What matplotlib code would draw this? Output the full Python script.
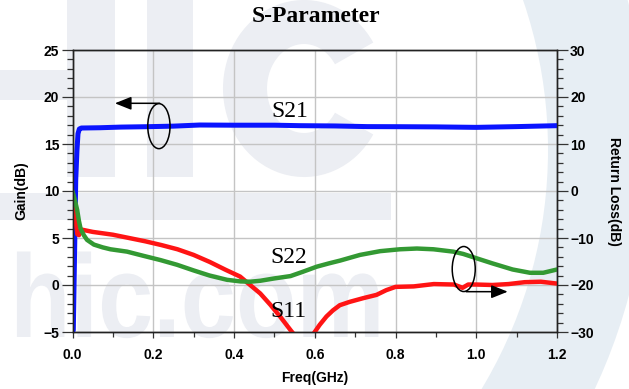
import numpy as np
import matplotlib
matplotlib.use("Agg")
import matplotlib.pyplot as plt
from matplotlib.patches import Ellipse, Rectangle, Arc, Wedge, PathPatch
from matplotlib.textpath import TextPath
from matplotlib.font_manager import FontProperties
from matplotlib.transforms import Affine2D
from matplotlib.ticker import MultipleLocator, FormatStrFormatter

# S21 gain (left axis, dB)
s21_freq = [0.0, 0.002, 0.005, 0.008, 0.011, 0.0136, 0.017, 0.022, 0.068, 0.12,
            0.184, 0.25, 0.315, 0.4, 0.5, 0.563, 0.65, 0.73, 0.811, 0.9, 1.0,
            1.1, 1.2]
s21_gain = [-5.0, -4.8, 3.0, 11.2, 14.3, 16.1, 16.6, 16.7, 16.73, 16.8,
            16.84, 16.9, 17.02, 17.0, 17.0, 16.95, 16.92, 16.85, 16.84, 16.82,
            16.77, 16.85, 16.95]

# S11 input return loss (right axis, dB)
s11_freq = [0.0, 0.006, 0.012, 0.016, 0.022, 0.05, 0.1, 0.14, 0.18, 0.22,
            0.26, 0.30, 0.34, 0.38, 0.415, 0.44, 0.465, 0.49, 0.515, 0.54,
            0.555, 0.57, 0.585, 0.60, 0.612, 0.629, 0.645, 0.662, 0.686, 0.72,
            0.753, 0.777, 0.80, 0.845, 0.895, 0.945, 0.966, 0.98, 1.0, 1.04,
            1.08, 1.12, 1.16, 1.2]
s11_rl = [-2.0, -5.0, -9.2, -9.4, -8.2, -8.7, -9.3, -10.0, -10.7, -11.5,
          -12.4, -13.6, -15.1, -16.8, -18.2, -20.0, -21.8, -24.2, -26.8, -29.6,
          -31.2, -32.4, -31.8, -30.0, -28.5, -26.7, -25.4, -24.3, -23.6, -22.8,
          -22.1, -21.1, -20.4, -20.3, -19.8, -19.9, -20.6, -19.9, -19.9, -20.0,
          -19.8, -19.4, -19.3, -19.7]

# S22 output return loss (right axis, dB)
s22_freq = [0.0, 0.006, 0.0115, 0.016, 0.02, 0.028, 0.036, 0.053, 0.075, 0.094,
            0.135, 0.176, 0.218, 0.259, 0.30, 0.34, 0.383, 0.416, 0.44, 0.465,
            0.50, 0.54, 0.57, 0.605, 0.635, 0.663, 0.712, 0.762, 0.811, 0.853,
            0.894, 0.943, 0.968, 0.993, 1.04, 1.09, 1.133, 1.166, 1.2]
s22_rl = [0.0, -2.0, -4.0, -6.4, -8.0, -9.4, -10.4, -11.4, -12.0, -12.4,
          -12.9, -13.8, -14.7, -15.7, -16.9, -18.0, -18.9, -19.24, -19.3, -19.1,
          -18.6, -18.1, -17.2, -16.1, -15.4, -14.8, -13.6, -12.8, -12.4, -12.24,
          -12.4, -12.9, -13.4, -14.1, -15.4, -16.7, -17.4, -17.4, -16.7]

W, H = 629, 389
fig = plt.figure(figsize=(W / 100, H / 100), dpi=100, facecolor="white")
px = Affine2D().scale(1.0 / W, 1.0 / H) + fig.transFigure


def box(x0, y0, x1, y1, color):
    # rectangle given in top-down pixel coords
    r = Rectangle((x0, H - y1), x1 - x0, y1 - y0, transform=px,
                  facecolor=color, edgecolor="none", zorder=-5)
    fig.add_artist(r)


# background logo
wm = "#eceef3"
box(67, 0, 115, 177, wm)
box(0, 70, 67, 100, wm)
box(147, 0, 193, 177, wm)
box(0, 193, 391, 220, wm)
fig.add_artist(Arc((304, H - 88.5), 118, 133, theta1=35, theta2=325,
                   transform=px, color=wm, lw=31.7, zorder=-5))
tp = TextPath((0, 0), "hic.com", size=118,
              prop=FontProperties(family="Liberation Sans", weight="bold"))
fig.add_artist(PathPatch(tp, transform=Affine2D().scale(0.84, 1.0).translate(10, H - 337) + px,
                         facecolor=wm, edgecolor="none", zorder=-5))
fig.add_artist(Wedge((85, H - 150), 563, -60, 60, width=100, transform=px,
                     facecolor="#e7eef4", edgecolor="none", zorder=-6))

ax = fig.add_axes([72.5 / W, 1 - 332 / H, 484.5 / W, 282 / H])
ax.set_facecolor("none")
ax2 = ax.twinx()
ax2.set_facecolor("none")

ax.plot(s21_freq, s21_gain, color="#0a14ff", lw=3.6, solid_capstyle="round", zorder=3)
ax2.plot(s11_freq, s11_rl, color="#ff1414", lw=3.2, solid_capstyle="round")
ax2.plot(s22_freq, s22_rl, color="#339933", lw=3.2, solid_capstyle="round")

ax.set_xlim(0, 1.2)
ax.set_ylim(-5, 25)
ax2.set_ylim(-30, 30)

ax.xaxis.set_major_locator(MultipleLocator(0.2))
ax.xaxis.set_minor_locator(MultipleLocator(0.1))
ax.xaxis.set_major_formatter(FormatStrFormatter("%.1f"))
ax.yaxis.set_major_locator(MultipleLocator(5))
ax.yaxis.set_minor_locator(MultipleLocator(1))
ax2.yaxis.set_major_locator(MultipleLocator(10))
ax2.yaxis.set_minor_locator(MultipleLocator(2))

ax.grid(True, which="major", color="#c4c4c4", lw=1.0)
ax.set_axisbelow(True)

tick_font = dict(family="Liberation Sans", weight="bold", size=10)
for a in (ax, ax2):
    a.tick_params(which="major", length=8, width=0.9, color="#333333", pad=1.5)
    a.tick_params(which="minor", length=4.5, width=0.9, color="#333333")
    for lbl in a.get_yticklabels():
        lbl.set_fontproperties(FontProperties(**tick_font))
    for s in a.spines.values():
        s.set_color("#222222")
        s.set_linewidth(1.0)
ax.tick_params(axis="x", which="major", length=4.5, pad=7)
ax.tick_params(axis="x", which="minor", length=3.5)
for lbl in ax.get_xticklabels():
    lbl.set_fontproperties(FontProperties(**tick_font))

ax.set_xlabel("Freq(GHz)", va="center", **tick_font)
ax.xaxis.set_label_coords(0.5, -0.163)
ax.set_ylabel("Gain(dB)", va="center", **tick_font)
ax.yaxis.set_label_coords(-0.105, 0.5)
ax2.set_ylabel("Return Loss(dB)", rotation=270, va="center", ha="center", **tick_font)
ax2.yaxis.set_label_coords(1.118, 0.5)

fig.text(316 / W, 1 - 17 / H, "S-Parameter", family="Liberation Serif",
         weight="bold", size=17, ha="center", va="center")

serif = dict(family="Liberation Serif", size=17, color="black")
ax.text(0.493, 17.85, "S21", ha="left", va="baseline", **serif)
ax2.text(0.489, -15.26, "S22", ha="left", va="baseline", **serif)
ax2.text(0.489, -26.8, "S11", ha="left", va="baseline", **serif)

# markers pointing each trace group to its axis
ax.add_patch(Ellipse((0.214, 16.9), 0.0552, 4.79, fill=False, ec="black", lw=1.1, zorder=5))
ax.annotate("", xy=(0.105, 19.33), xytext=(0.216, 19.33),
            arrowprops=dict(arrowstyle="-|>,head_length=0.5,head_width=0.2",
                            color="black", lw=1.1, mutation_scale=20,
                            shrinkA=0, shrinkB=0))
ax2.add_patch(Ellipse((0.969, -16.6), 0.057, 9.58, fill=False, ec="black", lw=1.1, zorder=5))
ax2.annotate("", xy=(1.078, -21.42), xytext=(0.975, -21.42),
             arrowprops=dict(arrowstyle="-|>,head_length=0.5,head_width=0.2",
                             color="black", lw=1.1, mutation_scale=20,
                             shrinkA=0, shrinkB=0))

fig.savefig("out.png", dpi=100)
